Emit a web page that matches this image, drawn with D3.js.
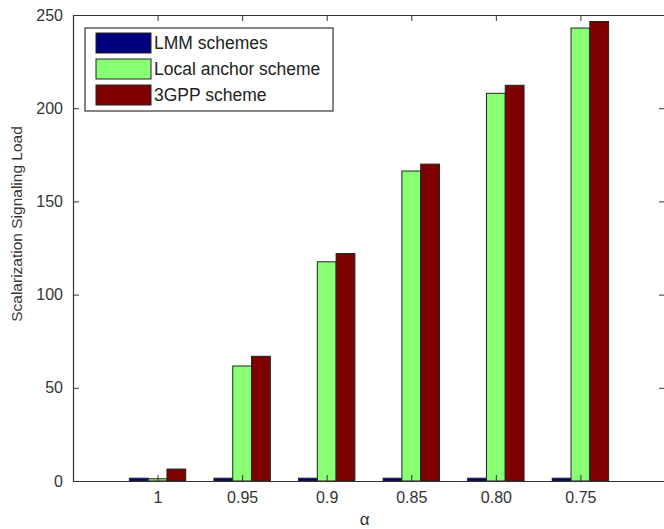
<!DOCTYPE html>
<html>
<head>
<meta charset="utf-8">
<script src="https://cdn.jsdelivr.net/npm/d3@7"></script>
<style>
  body { margin: 0; background: #fff; }
  svg { display: block; font-family: Arial, "Liberation Sans", sans-serif; }
</style>
</head>
<body>
<div id="chart"></div>
<script>
// alpha categories and series values
const categories = ['1', '0.95', '0.9', '0.85', '0.80', '0.75']
const seriesNames = ['LMM schemes', 'Local anchor scheme', '3GPP scheme']
const lmm = [1.5, 1.5, 1.5, 1.5, 1.5, 1.5]
const localAnchor = [1.2, 61.7, 117.6, 166.3, 208, 243]
const gpp = [6.4, 66.9, 122, 170, 212.3, 246.5]
const yTicks = [0, 50, 100, 150, 200, 250]
const colors = ['#00007f', '#88ff74', '#7f0000']

const W = 664, H = 529
const margin = { top: 15, right: -1, bottom: 48, left: 73 }
const width = W - margin.left - margin.right
const height = H - margin.top - margin.bottom

const svg = d3.select('#chart').append('svg')
  .attr('width', W)
  .attr('height', H)

const g = svg.append('g')
  .attr('transform', `translate(${margin.left},${margin.top})`)

// MATLAB-like: categories at 1..6, axis from 0 to 7
const x = d3.scaleLinear().domain([0, 7]).range([0, width])
const y = d3.scaleLinear().domain([0, 250]).range([height, 0])

const series = [lmm, localAnchor, gpp]
const barW = 2 / 9 // group width 2/3 split in three

series.forEach((vals, s) => {
  g.selectAll('.bar-' + s)
    .data(vals)
    .enter()
    .append('rect')
    .attr('class', 'bar-' + s)
    .attr('x', (d, i) => x(i + 1 - 1 / 3 + s * barW))
    .attr('y', d => y(d))
    .attr('width', x(barW) - x(0))
    .attr('height', d => y(0) - y(d))
    .attr('fill', colors[s])
    .attr('stroke', '#222')
    .attr('stroke-width', 1)
})

// axes with inward ticks on all four sides
const tickLen = 6
const axisColor = '#333'

const xBottom = g.append('g')
  .attr('transform', `translate(0,${height})`)
  .call(d3.axisBottom(x).tickValues(d3.range(1, 7))
    .tickFormat((d, i) => categories[i]).tickSizeInner(-tickLen).tickSizeOuter(0).tickPadding(11))
const xTop = g.append('g')
  .call(d3.axisTop(x).tickValues(d3.range(1, 7))
    .tickFormat('').tickSizeInner(-tickLen).tickSizeOuter(0))
const yLeft = g.append('g')
  .call(d3.axisLeft(y).tickValues(yTicks)
    .tickSizeInner(-tickLen).tickSizeOuter(0).tickPadding(10))
const yRight = g.append('g')
  .attr('transform', `translate(${width},0)`)
  .call(d3.axisRight(y).tickValues(yTicks)
    .tickFormat('').tickSizeInner(-tickLen).tickSizeOuter(0))

;[xBottom, xTop, yLeft, yRight].forEach(a => {
  a.select('.domain').attr('stroke', axisColor).attr('stroke-width', 1.2)
  a.selectAll('.tick line').attr('stroke', axisColor)
  a.selectAll('.tick text')
    .attr('fill', '#333')
    .style('font-size', '16px')
})

// axis labels
g.append('text')
  .attr('x', x(3.45))
  .attr('y', height + 44)
  .attr('text-anchor', 'middle')
  .attr('fill', '#333')
  .style('font-size', '17px')
  .text('α')

g.append('text')
  .attr('transform', 'rotate(-90)')
  .attr('x', -(224 - margin.top))
  .attr('y', -51)
  .attr('text-anchor', 'middle')
  .attr('fill', '#333')
  .style('font-size', '15.5px')
  .text('Scalarization Signaling Load')

// legend
const legend = g.append('g')
  .attr('transform', `translate(${85 - margin.left},${28 - margin.top})`)

legend.append('rect')
  .attr('width', 248)
  .attr('height', 83)
  .attr('fill', '#fff')
  .attr('stroke', '#333')
  .attr('stroke-width', 1.2)

seriesNames.forEach((name, i) => {
  const row = legend.append('g')
    .attr('transform', `translate(11,${5 + i * 26})`)
  row.append('rect')
    .attr('width', 55)
    .attr('height', 20)
    .attr('fill', colors[i])
    .attr('stroke', '#222')
  row.append('text')
    .attr('x', 58)
    .attr('y', 16)
    .attr('fill', '#222')
    .style('font-size', '17.5px')
    .text(name)
})
</script>
</body>
</html>
